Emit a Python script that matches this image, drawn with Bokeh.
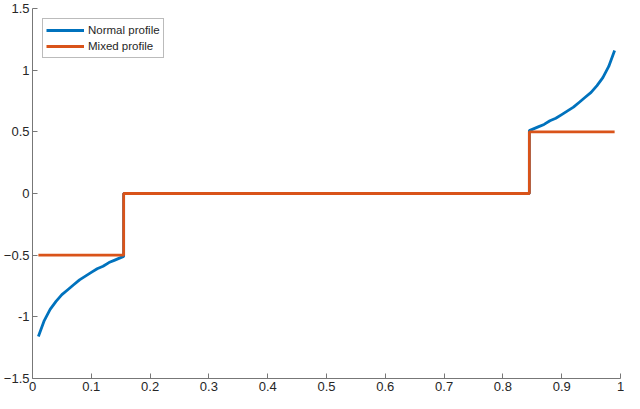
from bokeh.plotting import figure
from bokeh.models import Range1d, FixedTicker, Legend, LegendItem
from bokeh.embed import file_html
from bokeh.resources import INLINE

# Normal profile
normal_x = [0.01, 0.02, 0.03, 0.04, 0.05, 0.06, 0.07, 0.08, 0.09, 0.10, 0.11, 0.12, 0.13, 0.14, 0.155,
            0.155, 0.845,
            0.845, 0.86, 0.87, 0.88, 0.89, 0.90, 0.91, 0.92, 0.93, 0.94, 0.95, 0.96, 0.97, 0.98, 0.99]
normal_y = [-1.16, -1.03, -0.94, -0.875, -0.82, -0.78, -0.74, -0.70, -0.67, -0.64, -0.61, -0.59, -0.56, -0.54, -0.51,
            0.0, 0.0,
            0.51, 0.54, 0.56, 0.59, 0.61, 0.64, 0.67, 0.70, 0.74, 0.78, 0.82, 0.875, 0.94, 1.03, 1.16]

# Mixed profile
mixed_x = [0.01, 0.155, 0.155, 0.845, 0.845, 0.99]
mixed_y = [-0.5, -0.5, 0.0, 0.0, 0.5, 0.5]

x_ticks = [0, 0.1, 0.2, 0.3, 0.4, 0.5, 0.6, 0.7, 0.8, 0.9, 1]
y_ticks = [-1.5, -1, -0.5, 0, 0.5, 1, 1.5]
labels = ["Normal profile", "Mixed profile"]

BLUE = "#0072BD"
ORANGE = "#D95319"
TEXT = "#262626"
AXIS = "#777777"

p = figure(width=624, height=393, output_backend="svg", toolbar_location=None,
           x_range=Range1d(0, 1), y_range=Range1d(-1.5, 1.5),
           min_border_left=22, min_border_right=4, min_border_top=8, min_border_bottom=4)
p.outline_line_color = None
p.grid.visible = False
p.background_fill_color = "white"

r1 = p.line(normal_x, normal_y, line_color=BLUE, line_width=2.8)
r2 = p.line(mixed_x, mixed_y, line_color=ORANGE, line_width=2.8)

for ax, ticks in ((p.xaxis, x_ticks), (p.yaxis, y_ticks)):
    ax.ticker = FixedTicker(ticks=ticks)
    ax.major_tick_in = 5
    ax.major_tick_out = 0
    ax.minor_tick_line_color = None
    ax.axis_line_color = AXIS
    ax.major_tick_line_color = AXIS
    ax.major_label_text_color = TEXT
    ax.major_label_text_font = "Liberation Sans"
    ax.major_label_text_font_size = "13px"
    ax.major_label_standoff = 3

p.xaxis.major_label_overrides = {0: "0", 1: "1"}
p.yaxis.major_label_overrides = {0: "0", 1: "1", -1: "-1"}

legend = Legend(items=[LegendItem(label=labels[0], renderers=[r1]),
                       LegendItem(label=labels[1], renderers=[r2])],
                location="top_left")
legend.margin = 10
legend.padding = 3
legend.spacing = 0
legend.glyph_width = 38
legend.glyph_height = 16
legend.label_height = 16
legend.label_standoff = 4
legend.label_text_font = "Liberation Sans"
legend.label_text_font_size = "11.5px"
legend.label_text_color = TEXT
legend.border_line_color = AXIS
legend.border_line_width = 1
legend.background_fill_color = "white"
p.add_layout(legend, "center")

open("out.html", "w").write(file_html(p, INLINE))
